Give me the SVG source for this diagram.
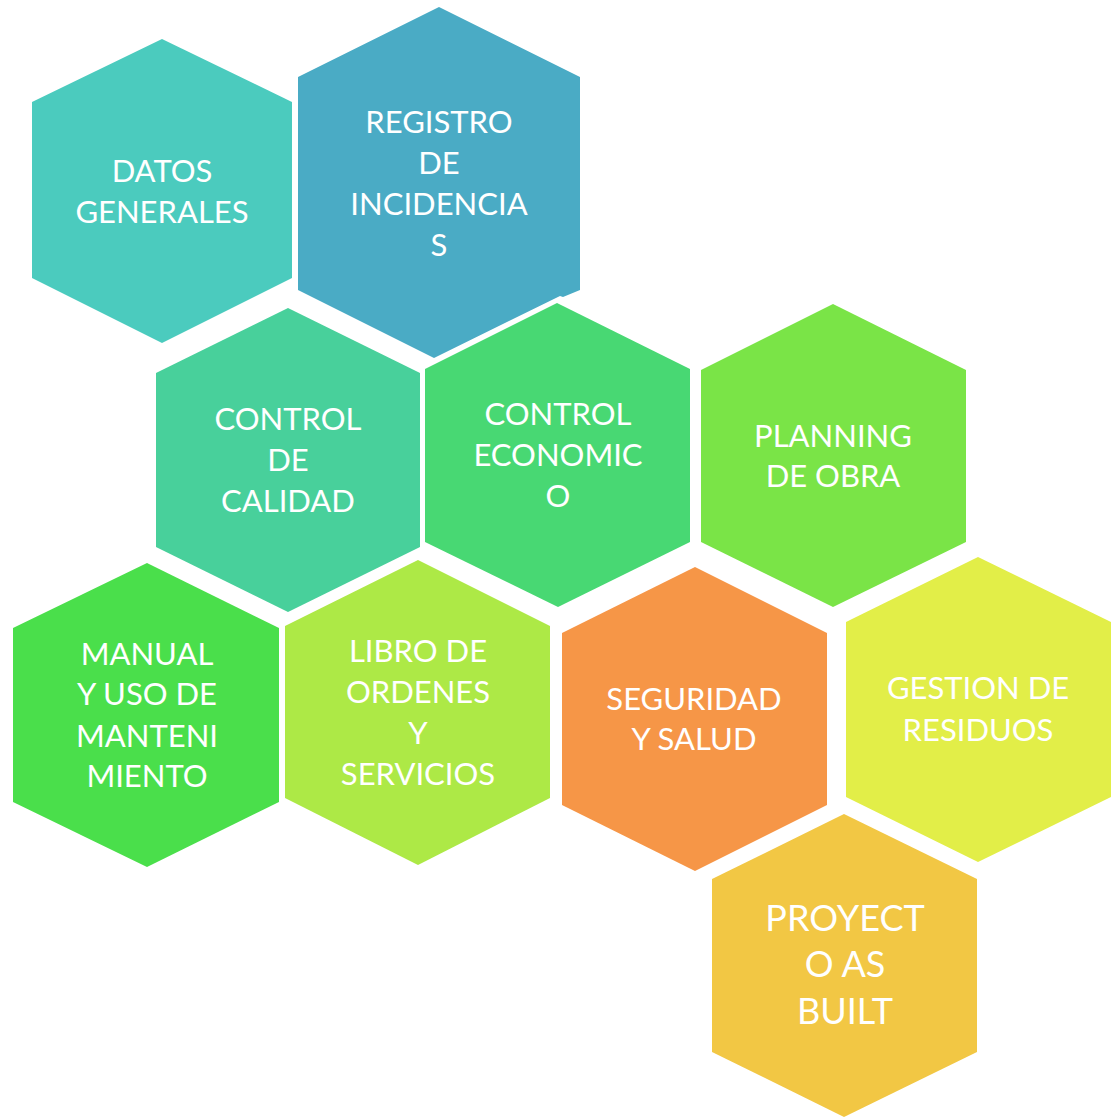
<svg xmlns="http://www.w3.org/2000/svg" width="1119" height="1120" viewBox="0 0 1119 1120">
<style>
text{font-family:Lato,"Open Sans","Liberation Sans",sans-serif;font-size:31px;fill:#FFFFFF;text-anchor:middle}
.big{font-size:36px}
</style>
<rect width="1119" height="1120" fill="#FFFFFF"/>
<g id="datos-generales">
<polygon points="162,39 292,102 292,278 162,343 32,278 32,102" fill="#4BCBBE"/>
<text x="162" y="182">DATOS</text>
<text x="162" y="223">GENERALES</text>
</g>
<g id="registro-incidencias">
<polygon points="439,7 580,77 580,290 563,297 560,296 434,358 298,290 298,77" fill="#4AABC5"/>
<text x="439" y="133">REGISTRO</text>
<text x="439" y="174">DE</text>
<text x="439" y="215">INCIDENCIA</text>
<text x="439" y="256">S</text>
</g>
<g id="control-calidad">
<polygon points="288,308 420,373 420,547 288,612 156,547 156,373" fill="#48D09B"/>
<text x="288" y="430">CONTROL</text>
<text x="288" y="471">DE</text>
<text x="288" y="512">CALIDAD</text>
</g>
<g id="control-economico">
<polygon points="557,303 690,369 690,542 558,607 425,542 425,369" fill="#48D873"/>
<text x="558" y="425">CONTROL</text>
<text x="558" y="466">ECONOMIC</text>
<text x="558" y="507">O</text>
</g>
<g id="planning-obra">
<polygon points="833,304 966,370 966,542 833,607 701,542 701,370" fill="#7AE447"/>
<text x="833" y="447">PLANNING</text>
<text x="833" y="487">DE OBRA</text>
</g>
<g id="manual-uso">
<polygon points="147,563 279,628 279,802 147,867 13,802 13,628" fill="#4ADF4B"/>
<text x="147" y="665">MANUAL</text>
<text x="147" y="705">Y USO DE</text>
<text x="147" y="747">MANTENI</text>
<text x="147" y="787">MIENTO</text>
</g>
<g id="libro-ordenes">
<polygon points="418,560 550,626 550,798 418,865 285,798 285,626" fill="#ADE946"/>
<text x="418" y="662">LIBRO DE</text>
<text x="418" y="703">ORDENES</text>
<text x="418" y="744">Y</text>
<text x="418" y="785">SERVICIOS</text>
</g>
<g id="seguridad-salud">
<polygon points="695,567 827,633 827,805 695,871 562,805 562,633" fill="#F69647"/>
<text x="694" y="710">SEGURIDAD</text>
<text x="694" y="750">Y SALUD</text>
</g>
<g id="gestion-residuos">
<polygon points="978,557 1111,622 1111,797 978,862 846,797 846,622" fill="#E2EE48"/>
<text x="978" y="699">GESTION DE</text>
<text x="978" y="741">RESIDUOS</text>
</g>
<g id="proyecto-as-built">
<polygon points="844,814 977,879 977,1052 844,1117 712,1052 712,879" fill="#F2C744"/>
<text class="big" x="845" y="931">PROYECT</text>
<text class="big" x="845" y="977">O AS</text>
<text class="big" x="845" y="1024">BUILT</text>
</g>
<g id="connectors"/>
</svg>
